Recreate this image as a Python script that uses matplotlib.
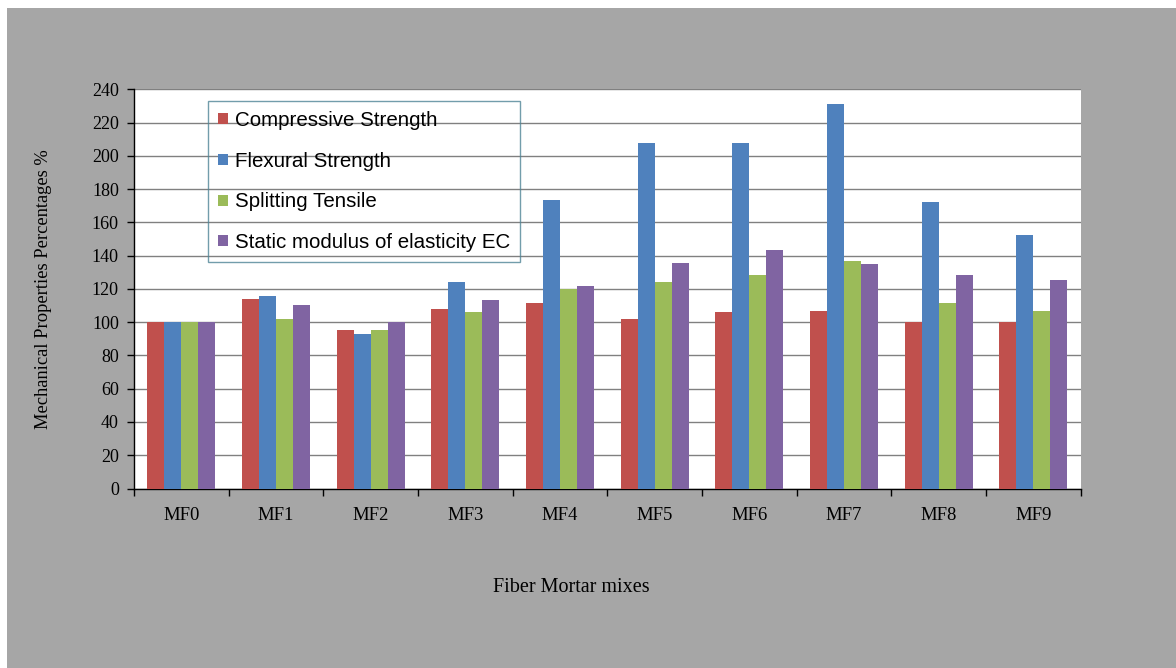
import numpy as np
import matplotlib
matplotlib.use('Agg')
import matplotlib.pyplot as plt
from matplotlib.patches import Rectangle

mixes = ['MF0', 'MF1', 'MF2', 'MF3', 'MF4', 'MF5', 'MF6', 'MF7', 'MF8', 'MF9']
compressive = [100, 114, 95.5, 108, 111.5, 102, 106, 106.5, 100, 100]
flexural = [100, 116, 93, 124, 173.5, 208, 208, 231, 172, 152.5]
splitting = [100, 102, 95, 106, 120, 124, 128.5, 136.5, 111.5, 106.5]
static_ec = [100, 110.5, 100, 113.5, 121.5, 135.5, 143.5, 135, 128.5, 125.5]

series = [
    ('Compressive Strength', compressive, '#C0504D'),
    ('Flexural Strength', flexural, '#4F81BD'),
    ('Splitting Tensile', splitting, '#9BBB59'),
    ('Static modulus of elasticity EC', static_ec, '#8064A2'),
]

serif = ['Liberation Serif', 'DejaVu Serif']
sans = ['Liberation Sans', 'DejaVu Sans']

fig = plt.figure(figsize=(11.76, 6.68), dpi=100, facecolor='white')
# grey chart area with a thin white margin at the top and left
fig.patches.append(Rectangle((7 / 1176, 0), 1, (668 - 8) / 668,
                             transform=fig.transFigure, facecolor='#a6a6a6',
                             edgecolor='none', zorder=-10))

ax = fig.add_axes([0.114, 0.2687, 0.805, 0.5976])
ax.set_facecolor('white')

x = np.arange(len(mixes))
w = 0.18
for i, (name, vals, col) in enumerate(series):
    ax.bar(x + (i - 1.5) * w, vals, w, color=col, label=name, zorder=3)

ax.set_xlim(-0.5, len(mixes) - 0.5)
ax.set_ylim(0, 240)
ax.set_yticks(np.arange(0, 241, 20))
ax.yaxis.grid(True, color='#808080', linewidth=1, zorder=0)
ax.set_axisbelow(True)

ax.set_xticks(x)
ax.set_xticklabels(mixes, fontfamily=serif, fontsize=13.5)
ax.set_xticks(np.arange(-0.5, len(mixes), 1), minor=True)
ax.tick_params(axis='x', which='major', length=0, pad=13)
ax.tick_params(axis='x', which='minor', length=5, width=1, direction='out')
ax.tick_params(axis='y', length=5, width=1, direction='out', pad=6)
for t in ax.get_yticklabels():
    t.set_fontfamily(serif)
    t.set_fontsize(13)

for s in ['top', 'right']:
    ax.spines[s].set_visible(False)
for s in ['left', 'bottom']:
    ax.spines[s].set_color('black')
    ax.spines[s].set_linewidth(1)

fig.text(0.486, 0.12, 'Fiber Mortar mixes', ha='center', va='center',
         fontfamily=serif, fontsize=14.5)
fig.text(0.037, 0.567, 'Mechanical Properties Percentages %', ha='center',
         va='center', rotation=90, fontfamily=serif, fontsize=13.3)

leg = ax.legend(loc='upper left', bbox_to_anchor=(208 / 1176, 1 - 101 / 668),
                bbox_transform=fig.transFigure, prop={'family': sans, 'size': 14.8},
                frameon=True, fancybox=False, facecolor='none',
                edgecolor='#4f8596', handlelength=0.45, handleheight=0.45,
                handletextpad=0.35, labelspacing=1.05, borderpad=0.5,
                borderaxespad=0)
leg.get_frame().set_linewidth(1)

fig.savefig('out.png', dpi=100, facecolor=fig.get_facecolor())
